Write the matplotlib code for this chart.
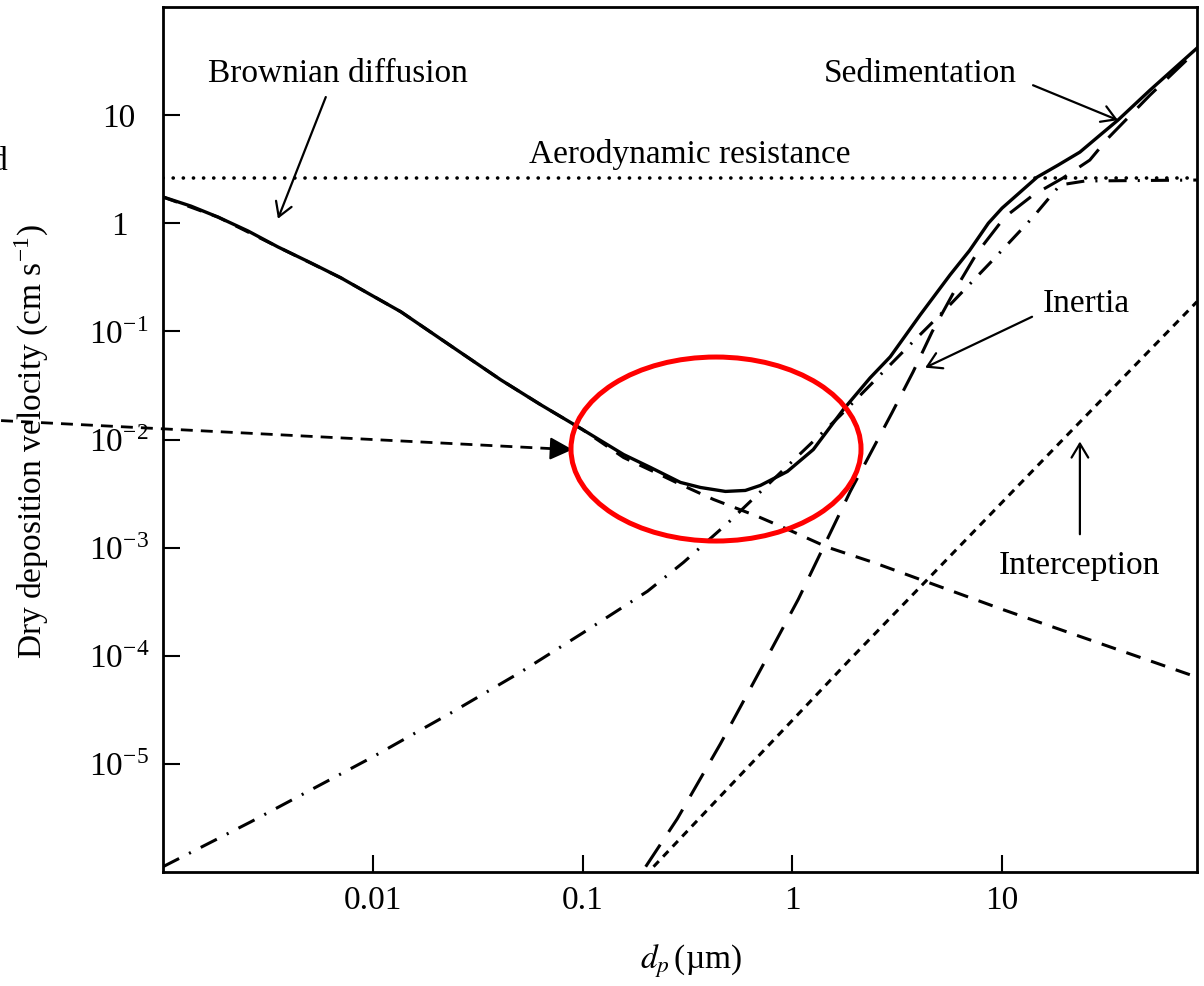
import numpy as np
import matplotlib
matplotlib.use("Agg")
import matplotlib.pyplot as plt
from matplotlib.patches import Ellipse

plt.rcParams['font.family'] = ['Liberation Serif', 'DejaVu Serif']
plt.rcParams['mathtext.fontset'] = 'stix'
plt.rcParams['font.size'] = 24
plt.rcParams['lines.scale_dashes'] = False

# total dry deposition velocity (solid)
dp_total = [0.001, 0.00136, 0.00183, 0.00254, 0.00353, 0.00507, 0.00704, 0.00978,
            0.0136, 0.0235, 0.0407, 0.0631, 0.1, 0.157, 0.211, 0.293, 0.365, 0.48,
            0.597, 0.704, 0.947, 1.259, 1.75, 2.35, 2.93, 4.07, 5.65, 7.0, 8.6, 10,
            12.2, 14.7, 18.5, 23.5, 29.3, 35.7, 50.7, 84.9]
v_total = [1.75, 1.44, 1.14, 0.849, 0.604, 0.43, 0.313, 0.218,
           0.152, 0.0737, 0.0357, 0.021, 0.01236, 0.00726, 0.00551, 0.00401, 0.0036, 0.00331,
           0.00338, 0.00376, 0.00506, 0.00807, 0.0189, 0.0372, 0.0582, 0.142, 0.333, 0.56, 1.0, 1.38,
           1.94, 2.67, 3.45, 4.55, 6.53, 9.0, 17.0, 41.6]

# brownian diffusion (dashed)
dp_diff = [0.001, 0.00183, 0.00353, 0.00704, 0.0136, 0.0235, 0.0407, 0.0631, 0.1, 0.157,
           0.223, 0.293, 0.421, 0.681, 0.947, 1.468, 2.43, 10, 84.9]
v_diff = [1.75, 1.14, 0.604, 0.313, 0.152, 0.0737, 0.0357, 0.021, 0.01236, 0.00681,
          0.00495, 0.00384, 0.00279, 0.00195, 0.00148, 0.00101, 0.000731, 0.000269, 6.34e-5]

# dash-dot curve
dp_dd = [0.001, 0.00262, 0.01, 0.0235, 0.0507, 0.1, 0.204, 0.303, 0.496, 0.812,
         1.69, 3.45, 5.53, 8.96, 14.05, 18.9, 24.9, 84.9]
v_dd = [1.12e-6, 2.91e-6, 1.16e-5, 2.95e-5, 7.06e-5, 1.62e-4, 3.95e-4, 7.31e-4, 1.71e-3, 4.27e-3,
        0.0166, 0.0678, 0.169, 0.449, 1.14, 2.26, 2.46, 2.51]

# inertia (long dash)
dp_in = [0.2, 0.283, 0.454, 0.704, 1.068, 1.89, 2.99, 3.77, 4.64, 5.97, 7.6, 10.3,
         14.05, 19.5, 26.2, 32.0, 50.7, 84.9]
v_in = [1.12e-6, 3.11e-6, 1.53e-5, 7.38e-5, 3.33e-4, 3.31e-3, 0.01774, 0.0424, 0.0991, 0.242,
        0.532, 1.14, 1.82, 2.62, 3.84, 6.12, 15.3, 39.8]

# interception (short dash)
dp_ic = [0.218, 1.89, 19.5, 84.9]
v_ic = [1.12e-6, 9.3e-5, 0.01, 0.188]

# aerodynamic resistance limit
v_aero = 2.62

yticks = [10, 1, 0.1, 0.01, 1e-3, 1e-4, 1e-5]
ylabels = ["10", "1", r"10$^{\mathregular{-1}}$", r"10$^{\mathregular{-2}}$",
           r"10$^{\mathregular{-3}}$", r"10$^{\mathregular{-4}}$", r"10$^{\mathregular{-5}}$"]
xticks = [0.01, 0.1, 1, 10]
xlabels = ["0.01", "0.1", "1", "10"]

fig = plt.figure(figsize=(12.04, 9.86), dpi=100)
ax = fig.add_axes([0.1354, 0.1156, 0.8588, 0.8773])
ax.set_xscale('log')
ax.set_yscale('log')
ax.set_xlim(0.001, 85)
ax.set_ylim(1e-6, 100)

ax.axhline(v_aero, color='black', lw=2.6, ls=(0, (0.1, 7.2)), dash_capstyle='round')
ax.plot(dp_diff, v_diff, color='black', lw=2.2, ls=(0, (10.8, 8.0)))
ax.plot(dp_dd, v_dd, color='black', lw=2.2, ls=(0, (13, 8, 1.5, 8)))
ax.plot(dp_in, v_in, color='black', lw=2.2, ls=(0, (19, 11)))
ax.plot(dp_ic, v_ic, color='black', lw=2.2, ls=(0, (5.5, 4.5)))
ax.plot(dp_total, v_total, color='black', lw=2.4, solid_joinstyle='round')

# red highlight ellipse
ax.add_patch(Ellipse((0.5348, 0.489), 0.2805, 0.2127, transform=ax.transAxes,
                     fill=False, edgecolor='#ff0000', lw=3.6, zorder=5))

# dashed arrow coming in from the left
ax.plot([1.69e-4, 0.08], [0.01496, 0.00814], color='black', lw=2.0,
        ls=(0, (8.6, 5.8)), clip_on=False)
ax.annotate('', xy=(0.0896, 0.00807), xytext=(0.075, 0.0082),
            arrowprops=dict(arrowstyle='-|>,head_length=0.7,head_width=0.35',
                            color='black', lw=1.5, shrinkA=0, shrinkB=0, mutation_scale=20))

arrow = dict(arrowstyle='->,head_length=0.5,head_width=0.3', color='black', lw=1.6,
             shrinkA=0, shrinkB=0, mutation_scale=20)
ax.text(0.00681, 20.2, "Brownian diffusion", ha='center', va='baseline')
ax.annotate('', xy=(0.00353, 1.10), xytext=(0.00597, 14.7), arrowprops=arrow)
ax.text(0.323, 3.60, "Aerodynamic resistance", ha='center', va='baseline')
ax.text(4.07, 20.2, "Sedimentation", ha='center', va='baseline')
ax.annotate('', xy=(35.7, 8.98), xytext=(14.05, 18.9), arrowprops=arrow)
ax.text(25.1, 0.152, "Inertia", ha='center', va='baseline')
ax.annotate('', xy=(4.30, 0.0462), xytext=(13.9, 0.1365), arrowprops=arrow)
ax.text(23.3, 5.67e-4, "Interception", ha='center', va='baseline')
ax.annotate('', xy=(23.5, 9.58e-3), xytext=(23.5, 1.33e-3), arrowprops=arrow)

ax.set_yticks(yticks)
ax.set_yticklabels(ylabels)
ax.set_xticks(xticks)
ax.set_xticklabels(xlabels)
ax.minorticks_off()
ax.tick_params(axis='both', direction='in', length=12, width=1.5, labelsize=24)
ax.tick_params(axis='y', pad=31.7)
ax.tick_params(axis='x', pad=10)
for lbl in ax.get_yticklabels():
    lbl.set_horizontalalignment('center')
for sp in ax.spines.values():
    sp.set_linewidth(2.0)

fig.text(31 / 1204, 1 - 441 / 986, r"Dry deposition velocity (cm s$^{\mathregular{-1}}$)",
         rotation=90, ha='center', va='center')
fig.text(691 / 1204, 1 - 968 / 986, r"$d_p\,$(µm)", ha='center', va='baseline')
# fragment of a word cut off at the left edge in the original
fig.text(-9 / 1204, 1 - 170 / 986, "d", ha='left', va='baseline')

fig.savefig("out.png", dpi=100)
